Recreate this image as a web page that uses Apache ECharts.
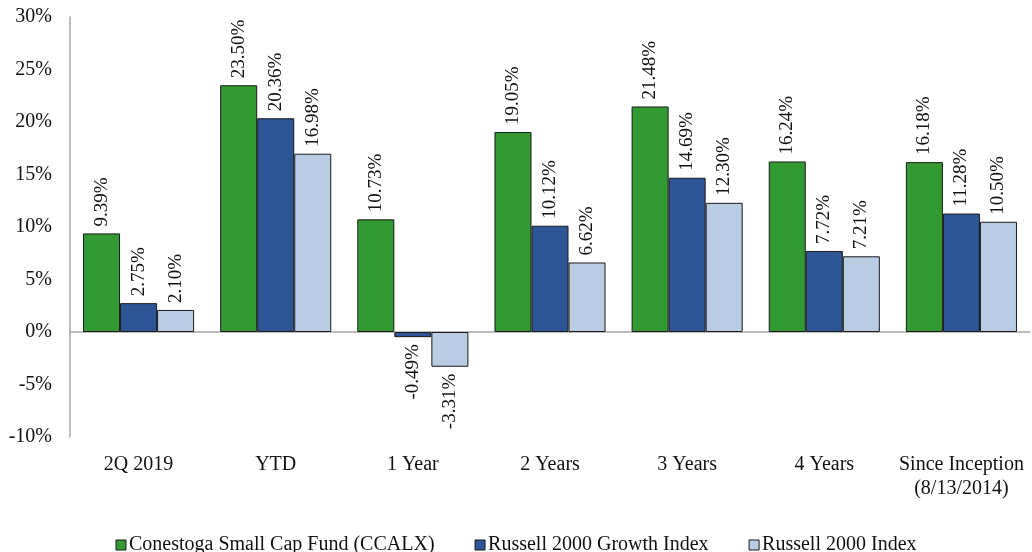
<!DOCTYPE html>
<html><head><meta charset="utf-8">
<script src="https://cdn.jsdelivr.net/npm/echarts@6/dist/echarts.min.js"></script>
<style>html,body{margin:0;padding:0;background:#fff}#c{width:1032px;height:552px}</style>
</head><body><div id="c"></div>
<script>
var categories = ['2Q 2019','YTD','1 Year','2 Years','3 Years','4 Years','Since Inception\n(8/13/2014)'];
var seriesNames = ['Conestoga Small Cap Fund (CCALX)','Russell 2000 Growth Index','Russell 2000 Index'];
var fundValues = [9.39, 23.50, 10.73, 19.05, 21.48, 16.24, 16.18];
var growthValues = [2.75, 20.36, -0.49, 10.12, 14.69, 7.72, 11.28];
var indexValues = [2.10, 16.98, -3.31, 6.62, 12.30, 7.21, 10.50];
var yTicks = {min: -10, max: 30, interval: 5};
var colors = ['#339933', '#2E5596', '#B8CCE4'];
var FONT = 'Liberation Serif';

function mkData(vals) {
  return vals.map(function (v) {
    if (v < 0) {
      return {value: v, label: {position: 'bottom', align: 'right'}};
    }
    return {value: v};
  });
}
function mkSeries(name, vals, color) {
  return {
    name: name, type: 'bar', data: mkData(vals),
    barGap: '0%', barCategoryGap: '19%',
    itemStyle: {color: color, borderColor: '#1a1a1a', borderWidth: 1},
    label: {
      show: true, position: 'top', rotate: 90, align: 'left', verticalAlign: 'middle',
      distance: 7, fontFamily: FONT, fontSize: 19, color: '#111',
      formatter: function (p) { return p.value.toFixed(2) + '%'; }
    }
  };
}
var chart = echarts.init(document.getElementById('c'));
chart.setOption({
  animation: false,
  textStyle: {fontFamily: FONT},
  grid: {left: 70, right: 2, top: 17, bottom: 115, containLabel: false},
  legend: {
    top: 530, left: 'center', itemWidth: 10, itemHeight: 10, itemGap: 40,
    icon: 'rect',
    textStyle: {fontFamily: FONT, fontSize: 20, color: '#111', padding: [0, 0, 0, -2]},
    data: seriesNames.map(function (n, i) {
      return {name: n, itemStyle: {color: colors[i], borderColor: '#1a1a1a', borderWidth: 1}};
    })
  },
  xAxis: [{
    type: 'category', data: categories, position: 'bottom',
    axisLine: {show: false, onZero: false}, axisTick: {show: false},
    axisLabel: {margin: 16, fontFamily: FONT, fontSize: 20, color: '#111', lineHeight: 24, interval: 0}
  }, {
    type: 'category', data: categories, position: 'bottom',
    axisLine: {show: true, onZero: true, lineStyle: {color: '#a6a6a6', width: 1.5}},
    axisTick: {show: false}, axisLabel: {show: false}
  }],
  yAxis: {
    type: 'value', min: yTicks.min, max: yTicks.max, interval: yTicks.interval,
    axisLine: {show: true, lineStyle: {color: '#a6a6a6', width: 1.5}},
    axisTick: {show: false}, splitLine: {show: false},
    axisLabel: {margin: 18, fontFamily: FONT, fontSize: 20, color: '#111',
      formatter: function (v) { return v + '%'; }}
  },
  series: [
    mkSeries(seriesNames[0], fundValues, colors[0]),
    mkSeries(seriesNames[1], growthValues, colors[1]),
    mkSeries(seriesNames[2], indexValues, colors[2])
  ]
});
</script></body></html>
